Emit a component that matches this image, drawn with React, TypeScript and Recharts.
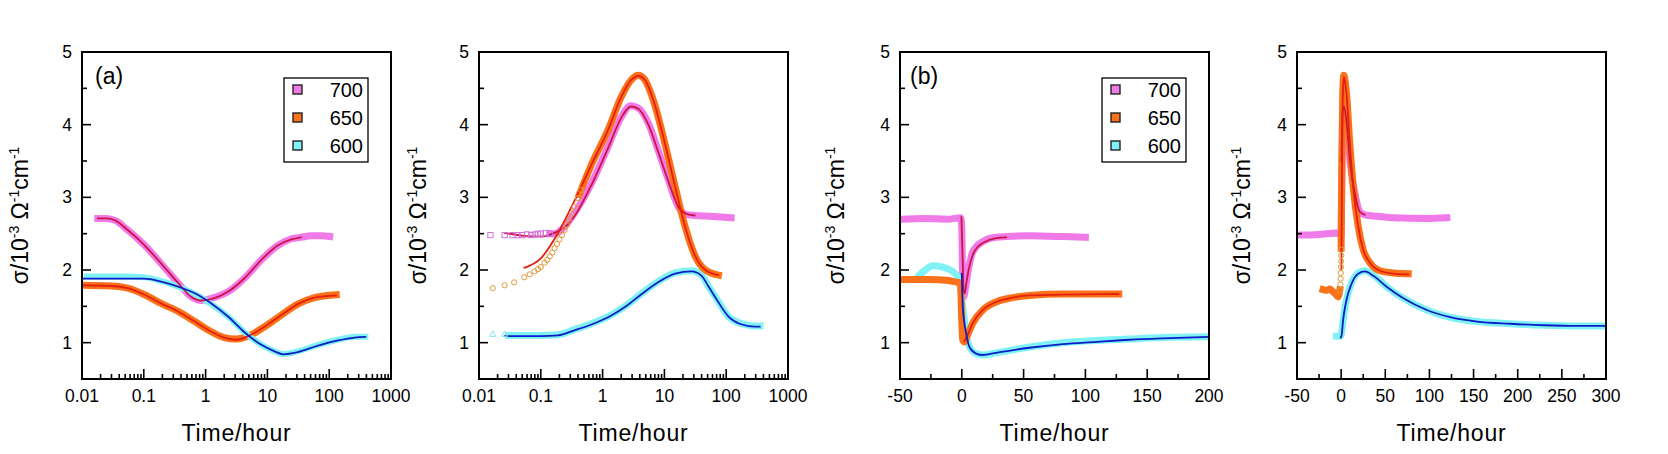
import React from "react";
import { LineChart, Line, XAxis, YAxis } from "recharts";

const FONT = '"Liberation Sans", Arial, sans-serif';

// colours
const PINK = "#f07ae8";
const ORANGE = "#fb711a";
const CYAN = "#80f2f6";
const PINK_FIT = "#cc1446";
const ORANGE_FIT = "#e2200f";
const CYAN_FIT = "#0a1ec8";

// axis ticks
const yMajors = [1, 2, 3, 4, 5];
const yMinors = [1.5, 2.5, 3.5, 4.5];
const logMajors = [0.01, 0.1, 1, 10, 100, 1000];
const bMajors = [-50, 0, 50, 100, 150, 200];
const bMinors = [-25, 25, 75, 125, 175];
const b2Majors = [-50, 0, 50, 100, 150, 200, 250, 300];
const b2Minors = [-25, 25, 75, 125, 175, 225, 275];
const legendLabels = ["700", "650", "600"];

// (a) left, log time
const a700 = [[0.018, 2.71], [0.025, 2.71], [0.035, 2.68], [0.055, 2.55], [0.103, 2.34], [0.19, 2.09], [0.36, 1.82], [0.59, 1.63], [0.85, 1.58], [1.24, 1.61], [2.3, 1.7], [4.3, 1.89], [8, 2.14], [14.9, 2.34], [24.4, 2.43], [35, 2.45], [51, 2.47], [75, 2.47], [102, 2.46]];
const a700Fit = [[0.018, 2.71], [0.025, 2.71], [0.035, 2.68], [0.055, 2.55], [0.103, 2.34], [0.19, 2.09], [0.36, 1.82], [0.59, 1.63], [0.85, 1.58], [1.24, 1.6], [2.3, 1.7], [4.3, 1.89], [8, 2.14], [14.9, 2.34], [24.4, 2.42], [35, 2.45]];
const a650 = [[0.01, 1.79], [0.03, 1.78], [0.055, 1.75], [0.103, 1.66], [0.19, 1.54], [0.36, 1.43], [0.67, 1.29], [1.24, 1.15], [2.0, 1.07], [3.1, 1.05], [4.9, 1.09], [9, 1.22], [16.8, 1.38], [31, 1.53], [58, 1.62], [130, 1.66]];
const a650Fit = [[0.01, 1.79], [0.03, 1.78], [0.055, 1.75], [0.103, 1.66], [0.19, 1.54], [0.36, 1.43], [0.67, 1.29], [1.24, 1.15], [2.0, 1.07], [3.1, 1.04], [4.9, 1.09], [9, 1.22], [16.8, 1.38], [31, 1.53], [58, 1.62], [130, 1.65]];
const a600 = [[0.012, 1.91], [0.05, 1.91], [0.1, 1.9], [0.19, 1.85], [0.36, 1.77], [0.67, 1.67], [1.24, 1.53], [2.3, 1.36], [4.3, 1.14], [8, 0.97], [13.1, 0.88], [17.9, 0.84], [31, 0.88], [66, 0.97], [139, 1.04], [258, 1.08], [385, 1.08]];
const a600Fit = [[0.01, 1.88], [0.05, 1.88], [0.1, 1.88], [0.19, 1.84], [0.36, 1.77], [0.67, 1.68], [1.24, 1.54], [2.3, 1.36], [4.3, 1.14], [8, 0.97], [13.1, 0.88], [17.9, 0.84], [31, 0.87], [66, 0.96], [139, 1.03], [258, 1.07], [385, 1.08]];

// (a) right, log time
const b700Marks = [[0.0153, 2.48], [0.026, 2.48], [0.035, 2.48], [0.042, 2.48], [0.05, 2.48], [0.06, 2.49], [0.07, 2.48], [0.08, 2.49], [0.09, 2.5], [0.1, 2.5], [0.12, 2.51], [0.14, 2.5]];
const b700 = [[0.14, 2.5], [0.17, 2.5], [0.214, 2.55], [0.35, 2.78], [0.66, 3.19], [1.23, 3.7], [2.02, 4.11], [2.86, 4.26], [3.77, 4.23], [5.5, 4.02], [7.9, 3.65], [11.6, 3.24], [16.8, 2.87], [21.5, 2.77], [31, 2.75], [52, 2.74], [120, 2.72]];
const b700Fit = [[0.026, 2.51], [0.054, 2.47], [0.1, 2.46], [0.167, 2.51], [0.27, 2.62], [0.35, 2.74], [0.66, 3.17], [1.23, 3.68], [2.02, 4.1], [2.86, 4.25], [3.77, 4.22], [5.5, 4.0], [7.9, 3.63], [11.6, 3.22], [16.8, 2.87], [21.5, 2.78], [31, 2.75]];
const b650Marks = [[0.0167, 1.75], [0.026, 1.79], [0.037, 1.83], [0.054, 1.9], [0.066, 1.94], [0.079, 1.98], [0.09, 2.01], [0.1, 2.04], [0.115, 2.1], [0.127, 2.14], [0.14, 2.19], [0.153, 2.24], [0.167, 2.3], [0.183, 2.36], [0.2, 2.42], [0.22, 2.48], [0.243, 2.55], [0.265, 2.62], [0.29, 2.7], [0.32, 2.78], [0.35, 2.87], [0.4, 2.99], [0.45, 3.1]];
const b650 = [[0.42, 3.04], [0.66, 3.45], [1.23, 3.93], [2.02, 4.39], [2.94, 4.62], [3.77, 4.68], [4.8, 4.62], [6.9, 4.29], [10.2, 3.74], [14.9, 3.15], [21.6, 2.6], [31.5, 2.19], [46, 2.0], [75, 1.93]];
const b650Fit = [[0.054, 2.03], [0.1, 2.16], [0.19, 2.51], [0.35, 2.95], [0.66, 3.45], [1.23, 3.93], [2.02, 4.39], [2.94, 4.62], [3.77, 4.67], [4.8, 4.62], [6.9, 4.29], [10.2, 3.74], [14.9, 3.15], [21.6, 2.6], [31.5, 2.19], [46, 2.0], [75, 1.93]];
const b600Marks = [[0.0167, 1.12], [0.026, 1.12]];
const b600 = [[0.03, 1.1], [0.1, 1.1], [0.19, 1.11], [0.35, 1.18], [0.66, 1.26], [1.23, 1.36], [2.3, 1.5], [4.3, 1.68], [7.9, 1.84], [14.9, 1.96], [27.5, 1.99], [40, 1.93], [52, 1.77], [66, 1.64], [109, 1.36], [180, 1.26], [293, 1.23], [350, 1.23]];
const b600Fit = [[0.026, 1.09], [0.1, 1.09], [0.19, 1.1], [0.35, 1.17], [0.66, 1.25], [1.23, 1.35], [2.3, 1.49], [4.3, 1.67], [7.9, 1.83], [14.9, 1.95], [27.5, 1.98], [40, 1.92], [52, 1.77], [66, 1.63], [109, 1.36], [180, 1.25], [293, 1.22], [350, 1.22]];

// (b) left, linear time
const c700 = [[-49, 2.7], [-30, 2.71], [-10, 2.7], [-1, 2.72], [0, 2.6], [0.5, 2.0], [1.5, 1.63], [3, 1.75], [4.8, 1.95], [8.9, 2.25], [17, 2.39], [27.8, 2.45], [54.7, 2.47], [81.7, 2.46], [100, 2.45]];
const c700Fit = [[-0.3, 2.73], [0.6, 2.2], [1.5, 1.72], [2.5, 1.68], [3.5, 1.8], [5.5, 2.0], [8.9, 2.21], [13, 2.32], [17, 2.37], [27.8, 2.44], [36, 2.45]];
const c650 = [[-49, 1.87], [-26, 1.87], [-12.7, 1.86], [-3.3, 1.83], [-1, 1.82], [-0.4, 1.5], [0.75, 1.04], [2.1, 1.01], [4.8, 1.11], [8.9, 1.27], [17, 1.45], [27.8, 1.56], [41, 1.62], [54.7, 1.65], [81.7, 1.67], [127, 1.67]];
const c650Fit = [[2.1, 1.02], [4.8, 1.11], [8.9, 1.27], [17, 1.45], [27.8, 1.56], [41, 1.62], [54.7, 1.65], [81.7, 1.66], [127, 1.67]];
const c600 = [[-34.3, 1.93], [-28, 2.02], [-23.5, 2.06], [-15.4, 2.04], [-7.3, 1.98], [-2, 1.86], [0.75, 1.5], [3.5, 1.13], [6.2, 0.94], [11.6, 0.85], [17, 0.83], [27.8, 0.86], [54.7, 0.94], [81.7, 1.0], [108.7, 1.03], [135.7, 1.05], [162.7, 1.07], [200, 1.08]];
const c600Fit = [[0, 1.95], [0.75, 1.5], [3.5, 1.13], [6.2, 0.94], [11.6, 0.85], [17, 0.83], [27.8, 0.86], [54.7, 0.93], [81.7, 0.98], [108.7, 1.01], [135.7, 1.04], [162.7, 1.06], [200, 1.08]];

// (b) right, linear time
const d700Pre = [[-49, 2.48], [-25, 2.49], [-5.3, 2.51], [-3.4, 2.5]];
const d700 = [[0, 2.5], [1.5, 3.8], [3, 4.26], [6, 4.1], [10, 3.5], [15.5, 3.06], [21.2, 2.8], [26.9, 2.76], [40.2, 2.74], [59, 2.72], [97, 2.71], [119.7, 2.72]];
const d700Fit = [[0.5, 3.5], [1.5, 4.15], [3, 4.25], [6, 4.05], [10, 3.5], [15.5, 3.05], [21.2, 2.8], [26.9, 2.76]];
const d650Pre = [[-20.5, 1.73], [-16, 1.72], [-12.9, 1.74], [-10, 1.71], [-7.2, 1.68], [-3.4, 1.63], [-1.5, 1.73]];
const d650Marks = [[-1, 1.72], [-0.8, 1.8], [-0.6, 1.88], [-0.4, 1.96], [-0.2, 2.04], [0, 2.12], [0.1, 2.2], [0.2, 2.28]];
const d650 = [[0, 2.3], [0.8, 3.5], [1.8, 4.4], [3, 4.68], [4.5, 4.6], [6.1, 4.43], [9.8, 3.74], [13.6, 3.15], [19.3, 2.6], [25, 2.28], [32.6, 2.1], [43.9, 1.99], [59, 1.96], [76, 1.95]];
const d650Fit = [[0.3, 2.0], [1, 3.4], [1.8, 4.35], [3, 4.66], [4.5, 4.58], [6.1, 4.42], [9.8, 3.74], [13.6, 3.15], [19.3, 2.6], [25, 2.28], [32.6, 2.1], [43.9, 1.99], [59, 1.95], [76, 1.94]];
const d600 = [[-5.3, 1.09], [-0.4, 1.09], [2.3, 1.32], [6.1, 1.59], [11.7, 1.82], [19.3, 1.96], [26.9, 1.99], [36.4, 1.93], [51.5, 1.77], [70.5, 1.61], [97, 1.45], [123.5, 1.35], [153.8, 1.29], [191.7, 1.26], [229.5, 1.24], [267, 1.23], [300, 1.23]];
const d600Fit = [[-0.5, 1.07], [0.5, 1.1], [2.3, 1.32], [6.1, 1.59], [11.7, 1.81], [19.3, 1.95], [26.9, 1.98], [36.4, 1.92], [51.5, 1.77], [70.5, 1.61], [97, 1.45], [123.5, 1.35], [153.8, 1.29], [191.7, 1.26], [229.5, 1.24], [267, 1.23], [300, 1.23]];

type Kind = "band" | "fit" | "circle" | "square" | "tri";
type Series = { rows: number[][]; color: string; kind: Kind; w?: number };

const toPts = (rows: number[][]) => rows.map(([x, y]) => ({ x, y }));
const logMinors = logMajors.slice(0, -1).flatMap((m) => [2, 3, 4, 5, 6, 7, 8, 9].map((k) => m * k));

const panels = [
  {
    left: 82, log: true, domain: [0.01, 1000], majors: logMajors, minors: logMinors, label: "(a)", labelDx: 13, yLabelDx: 62,
    series: [
      { rows: a700, color: PINK, kind: "band", w: 7 },
      { rows: a650, color: ORANGE, kind: "band", w: 7 },
      { rows: a600, color: CYAN, kind: "band", w: 6 },
      { rows: a700Fit, color: PINK_FIT, kind: "fit" },
      { rows: a650Fit, color: ORANGE_FIT, kind: "fit" },
      { rows: a600Fit, color: CYAN_FIT, kind: "fit" },
    ] as Series[],
  },
  {
    left: 478.7, log: true, domain: [0.01, 1000], majors: logMajors, minors: logMinors, label: "", labelDx: 0, yLabelDx: 61,
    series: [
      { rows: b700Marks, color: "#d470d8", kind: "square" },
      { rows: b700, color: PINK, kind: "band", w: 7 },
      { rows: b600Marks, color: "#80e4e4", kind: "tri" },
      { rows: b600, color: CYAN, kind: "band", w: 7 },
      { rows: b650, color: ORANGE, kind: "band", w: 7 },
      { rows: b650Marks, color: "#e09a3a", kind: "circle" },
      { rows: b700Fit, color: PINK_FIT, kind: "fit" },
      { rows: b650Fit, color: ORANGE_FIT, kind: "fit" },
      { rows: b600Fit, color: CYAN_FIT, kind: "fit" },
    ] as Series[],
  },
  {
    left: 900, log: false, domain: [-50, 200], majors: bMajors, minors: bMinors, label: "(b)", labelDx: 10, yLabelDx: 64,
    series: [
      { rows: c700, color: PINK, kind: "band", w: 7 },
      { rows: c600, color: CYAN, kind: "band", w: 7 },
      { rows: c650, color: ORANGE, kind: "band", w: 7 },
      { rows: c700Fit, color: PINK_FIT, kind: "fit" },
      { rows: c650Fit, color: ORANGE_FIT, kind: "fit" },
      { rows: c600Fit, color: CYAN_FIT, kind: "fit" },
    ] as Series[],
  },
  {
    left: 1297, log: false, domain: [-50, 300], majors: b2Majors, minors: b2Minors, label: "", labelDx: 0, yLabelDx: 55,
    series: [
      { rows: d700Pre, color: PINK, kind: "band", w: 7 },
      { rows: d700, color: PINK, kind: "band", w: 7 },
      { rows: d600, color: CYAN, kind: "band", w: 7 },
      { rows: d650Pre, color: ORANGE, kind: "band", w: 7 },
      { rows: d650, color: ORANGE, kind: "band", w: 7 },
      { rows: d650Marks, color: "#e09a3a", kind: "circle" },
      { rows: d700Fit, color: PINK_FIT, kind: "fit" },
      { rows: d650Fit, color: ORANGE_FIT, kind: "fit" },
      { rows: d600Fit, color: CYAN_FIT, kind: "fit" },
    ] as Series[],
  },
];

const Y_W = 80;
const PW = 309;
const RIGHT = 40;
const TOP = 52;
const X_H = 75;
const H = 454;
const PH = H - TOP - X_H;

function makeXTick(majors: number[]) {
  return (props: any) => {
    const { x, y, payload } = props;
    const major = majors.includes(payload.value);
    return (
      <g>
        <line x1={x} x2={x} y1={y} y2={y - (major ? 10 : 5)} stroke="#000" strokeWidth={1.6} />
        {major && (
          <text x={x} y={y + 23} textAnchor="middle" fontSize={17.5} fontFamily={FONT} fill="#000">
            {String(payload.value)}
          </text>
        )}
      </g>
    );
  };
}

function YTick(props: any) {
  const { x, y, payload } = props;
  const major = yMajors.includes(payload.value);
  return (
    <g>
      <line x1={x} x2={x + (major ? 9 : 5)} y1={y} y2={y} stroke="#000" strokeWidth={1.6} />
      {major && (
        <text x={x - 10} y={y + 6} textAnchor="end" fontSize={17.5} fontFamily={FONT} fill="#000">
          {payload.value}
        </text>
      )}
    </g>
  );
}

function makeDot(kind: Kind, color: string) {
  return (p: any) => {
    const { cx, cy, index } = p;
    if (cx == null || cy == null) return <g key={index} />;
    if (kind === "circle")
      return <circle key={index} cx={cx} cy={cy} r={2.6} fill="none" stroke={color} strokeWidth={1} />;
    if (kind === "square")
      return <rect key={index} x={cx - 2.6} y={cy - 2.6} width={5.2} height={5.2} fill="none" stroke={color} strokeWidth={1} />;
    return (
      <path key={index} d={`M${cx},${cy - 3} L${cx + 3},${cy + 2.4} L${cx - 3},${cy + 2.4} Z`} fill="none" stroke={color} strokeWidth={1} />
    );
  };
}

function Legend() {
  const colors = [PINK, ORANGE, CYAN];
  return (
    <svg width={86} height={86} style={{ position: "absolute", left: Y_W + 201, top: 77 }}>
      <rect x={1} y={1} width={84} height={84} fill="#fff" stroke="#000" strokeWidth={1.3} />
      {legendLabels.map((t, i) => (
        <g key={t}>
          <rect x={10} y={8 + i * 28} width={9} height={9} fill={colors[i]} stroke="#222" strokeWidth={1.4} />
          <text x={80} y={20 + i * 28} textAnchor="end" fontSize={20} fontFamily={FONT} fill="#000">
            {t}
          </text>
        </g>
      ))}
    </svg>
  );
}

function Panel({ cfg }: { cfg: (typeof panels)[number] }) {
  const W = Y_W + PW + RIGHT;
  const ticks = [...cfg.majors, ...cfg.minors].sort((a, b) => a - b);
  const axisLine = { stroke: "#000", strokeWidth: 2 };
  const yMid = TOP + PH / 2;
  return (
    <div style={{ position: "absolute", left: cfg.left - Y_W, top: 0, width: W, height: H }}>
      <LineChart width={W} height={H} margin={{ top: TOP, right: RIGHT, bottom: 0, left: 0 }}>
        <XAxis
          dataKey="x"
          type="number"
          scale={cfg.log ? "log" : "linear"}
          domain={cfg.domain}
          allowDataOverflow
          ticks={ticks}
          interval={0}
          tickSize={0}
          tickMargin={0}
          tickLine={false}
          axisLine={axisLine}
          tick={makeXTick(cfg.majors)}
          height={X_H}
        />
        <YAxis
          type="number"
          domain={[0.5, 5]}
          allowDataOverflow
          ticks={[...yMajors, ...yMinors].sort((a, b) => a - b)}
          interval={0}
          tickSize={0}
          tickMargin={0}
          tickLine={false}
          axisLine={axisLine}
          tick={YTick}
          width={Y_W}
        />
        {cfg.series.map((s, i) => {
          const data = toPts(s.rows);
          if (s.kind === "band" || s.kind === "fit") {
            return (
              <Line
                key={i}
                data={data}
                dataKey="y"
                type="monotone"
                stroke={s.color}
                strokeWidth={s.kind === "band" ? s.w : 1.8}
                strokeLinecap={s.kind === "band" ? "square" : "round"}
                strokeLinejoin="round"
                dot={false}
                activeDot={false}
                isAnimationActive={false}
              />
            );
          }
          return (
            <Line
              key={i}
              data={data}
              dataKey="y"
              type="linear"
              stroke="none"
              dot={makeDot(s.kind, s.color)}
              activeDot={false}
              isAnimationActive={false}
            />
          );
        })}
      </LineChart>
      <svg width={W} height={H} style={{ position: "absolute", left: 0, top: 0, pointerEvents: "none" }}>
        <rect x={Y_W} y={TOP} width={PW} height={PH} fill="none" stroke="#000" strokeWidth={2} />
        <text
          transform={`rotate(-90 ${Y_W - cfg.yLabelDx} ${yMid})`}
          x={Y_W - cfg.yLabelDx}
          y={yMid + 8}
          textAnchor="middle"
          fontSize={23}
          fontFamily={FONT}
          fill="#000"
        >
          σ/10<tspan dy={-9} fontSize={14}>-3</tspan>
          <tspan dy={9}> Ω</tspan>
          <tspan dy={-9} fontSize={14}>-1</tspan>
          <tspan dy={9}>cm</tspan>
          <tspan dy={-9} fontSize={14}>-1</tspan>
        </text>
        <text x={Y_W + PW / 2} y={H - X_H + 62} textAnchor="middle" fontSize={23} fontFamily={FONT} fill="#000" letterSpacing={0.8}>
          Time/hour
        </text>
        {cfg.label && (
          <text x={Y_W + cfg.labelDx} y={84} fontSize={23} fontFamily={FONT} fill="#000">
            {cfg.label}
          </text>
        )}
      </svg>
      {cfg.label && <Legend />}
    </div>
  );
}

export default function App() {
  return (
    <div style={{ position: "fixed", left: 0, top: 0, width: 1668, height: 454, background: "#fff", fontFamily: FONT }}>
      {panels.map((p, i) => (
        <Panel key={i} cfg={p} />
      ))}
    </div>
  );
}
